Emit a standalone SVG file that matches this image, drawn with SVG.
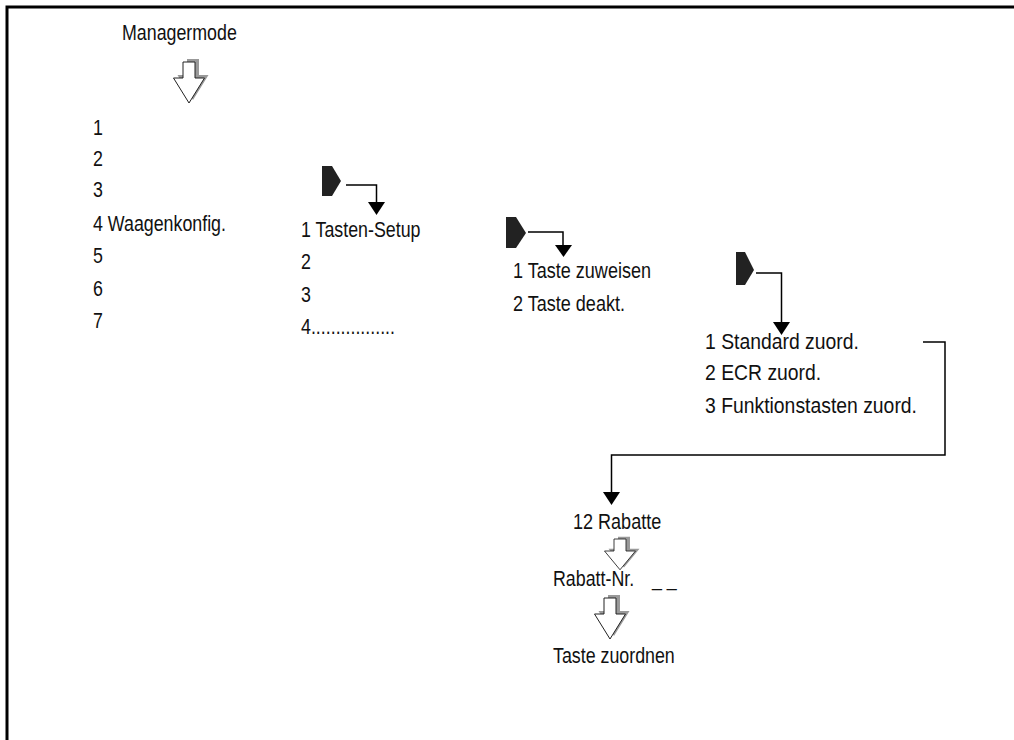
<svg xmlns="http://www.w3.org/2000/svg" width="1014" height="740" viewBox="0 0 1014 740">
<style>
text{font-family:"Liberation Sans",Arial,sans-serif;font-size:22px;fill:#111}
.ln{fill:none;stroke:#000;stroke-width:1.5}
.tri{fill:#000}
.pent{fill:#222}
.hol{fill:#fff;stroke:#222;stroke-width:1}
.sh{fill:#999}
</style>
<defs>
<g id="hollow">
<path class="sh" d="M-2,-3 h12 v16 h9.5 L4,38 L-11.5,13 h9.5 Z"/>
<path class="hol" d="M-6,0 h12 v16 h9.5 L0,41 L-15.5,16 h9.5 Z"/>
</g>
</defs>
<g id="frame"><path d="M7,740 V7 H1014" fill="none" stroke="#000" stroke-width="3"/></g>

<g id="managermode"><text transform="translate(122 40) scale(0.81 1)">Managermode</text></g>
<g id="arrow1"><use href="#hollow" x="189" y="62"/></g>

<g id="menu1">
<text transform="translate(93 135) scale(0.81 1)">1</text>
<text transform="translate(93 166) scale(0.81 1)">2</text>
<text transform="translate(93 197) scale(0.81 1)">3</text>
<text transform="translate(93 231) scale(0.81 1)">4 Waagenkonfig.</text>
<text transform="translate(93 263) scale(0.81 1)">5</text>
<text transform="translate(93 296) scale(0.81 1)">6</text>
<text transform="translate(93 328) scale(0.81 1)">7</text>
</g>

<g id="menu2">
<text transform="translate(301 237) scale(0.81 1)">1 Tasten-Setup</text>
<text transform="translate(301 269) scale(0.81 1)">2</text>
<text transform="translate(301 302) scale(0.81 1)">3</text>
<text transform="translate(301 334) scale(0.81 1)">4.................</text>
</g>

<g id="menu3">
<text transform="translate(513 278) scale(0.82 1)">1 Taste zuweisen</text>
<text transform="translate(513 311) scale(0.82 1)">2 Taste deakt.</text>
</g>

<g id="menu4">
<text transform="translate(705 349) scale(0.88 1)">1 Standard zuord.</text>
<text transform="translate(705 380) scale(0.88 1)">2 ECR zuord.</text>
<text transform="translate(705 413) scale(0.88 1)">3 Funktionstasten zuord.</text>
</g>

<g id="rabatte"><text transform="translate(573 529) scale(0.82 1)">12 Rabatte</text></g>
<g id="arrow2"><use href="#hollow" transform="translate(620 539) scale(1 0.75)"/></g>
<g id="rabattnr">
<text transform="translate(553 586) scale(0.81 1)">Rabatt-Nr.</text>
<text transform="translate(652 586) scale(0.81 1)">_ _</text>
</g>
<g id="arrow3"><use href="#hollow" x="610" y="598"/></g>
<g id="zuordnen"><text transform="translate(553 663) scale(0.81 1)">Taste zuordnen</text></g>

<g id="connectors">
<path class="pent" d="M322,166 H332 L341,181 L332,196 H322 Z"/>
<path class="ln" d="M346,185 H376.5 V203"/>
<path class="tri" d="M368,202 H385 L376.5,215 Z"/>

<path class="pent" d="M506,217 H516 L526,233 L516,248 H506 Z"/>
<path class="ln" d="M528,232 H563 V246"/>
<path class="tri" d="M555,245 H572 L563.5,257 Z"/>

<path class="pent" d="M736,252 H745 L754,270 L745,285 H736 Z"/>
<path class="ln" d="M756,273 H781.5 V323"/>
<path class="tri" d="M773,322 H790 L781.5,335 Z"/>

<path class="ln" d="M923,342 H945 V455 H611.5 V493"/>
<path class="tri" d="M603,492 H620 L611.5,505 Z"/>
</g>
</svg>
